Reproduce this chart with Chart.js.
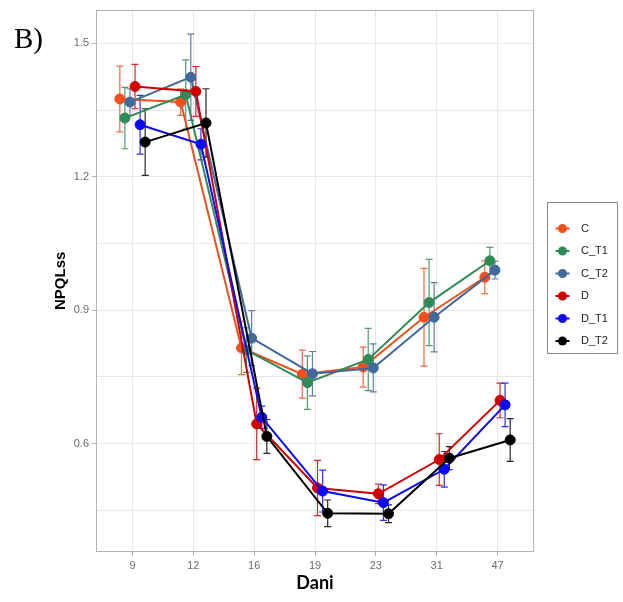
<!DOCTYPE html>
<html>
<head>
<meta charset="utf-8">
<title>NPQLss po danima</title>
<script src="https://cdn.jsdelivr.net/npm/chart.js@4.4.1/dist/chart.umd.min.js"></script>
<style>
  html, body { margin: 0; padding: 0; background: #ffffff; }
  #wrap { position: relative; width: 623px; height: 602px; }
</style>
</head>
<body>
<div id="wrap"><canvas id="chart-canvas" width="623" height="602"></canvas></div>
<script>
// ----- data: mean NPQLss per day and treatment, with standard deviation -----
var DAYS = ["9", "12", "16", "19", "23", "31", "47"];
var GROUPS = ["C", "C_T1", "C_T2", "D", "D_T1", "D_T2"];

var C_MEAN    = [1.375, 1.368, 0.815, 0.756, 0.772, 0.884, 0.974];
var C_T1_MEAN = [1.332, 1.385, 0.810, 0.737, 0.789, 0.917, 1.011];
var C_T2_MEAN = [1.368, 1.424, 0.837, 0.757, 0.770, 0.884, 0.990];
var D_MEAN    = [1.403, 1.392, 0.644, 0.500, 0.487, 0.564, 0.697];
var D_T1_MEAN = [1.317, 1.273, 0.659, 0.493, 0.467, 0.542, 0.687];
var D_T2_MEAN = [1.278, 1.321, 0.616, 0.443, 0.442, 0.567, 0.608];

var C_SD    = [0.074, 0.030, 0.060, 0.054, 0.045, 0.110, 0.037];
var C_T1_SD = [0.069, 0.078, 0.050, 0.060, 0.070, 0.097, 0.030];
var C_T2_SD = [0.030, 0.097, 0.062, 0.050, 0.054, 0.078, 0.020];
var D_SD    = [0.050, 0.056, 0.080, 0.062, 0.022, 0.058, 0.039];
var D_T1_SD = [0.066, 0.035, 0.025, 0.047, 0.040, 0.040, 0.049];
var D_T2_SD = [0.075, 0.077, 0.038, 0.030, 0.020, 0.026, 0.048];

var MEANS = [C_MEAN, C_T1_MEAN, C_T2_MEAN, D_MEAN, D_T1_MEAN, D_T2_MEAN];
var SDS = [C_SD, C_T1_SD, C_T2_SD, D_SD, D_T1_SD, D_T2_SD];

// y gridlines every 0.15, labels only on the major ones
var Y_TICKS = [0.45, 0.6, 0.75, 0.9, 1.05, 1.2, 1.35, 1.5];
var Y_LABELS = ["", "0.6", "", "0.9", "", "1.2", "", "1.5"];

// ----- styling -----
var COLORS = ["#f0501e", "#2e8b57", "#41699a", "#d00000", "#0a0af5", "#000000"];
var DODGE = 0.5;          // total horizontal spread of one day's points, in category units
var GRID = "#e8e8e8";
var BORDER = "#b3b3b3";
var TICK_TEXT = "#6b6b6b";

/**
 * Horizontal dodge offset for group i, so the six treatments sit side by side.
 */
function dodgeOffset(i) {
  return (i - (GROUPS.length - 1) / 2) * DODGE / GROUPS.length;
}

/**
 * Builds the {x, y} points of one group, x being the day index plus dodge.
 */
function groupPoints(i) {
  return MEANS[i].map(function(v, j) {
    return { x: j + 1 + dodgeOffset(i), y: v };
  });
}

var datasets = GROUPS.map(function(name, i) {
  return {
    label: name,
    data: groupPoints(i),
    borderColor: COLORS[i],
    backgroundColor: COLORS[i],
    borderWidth: 2,
    pointRadius: 5,
    pointBorderWidth: 1,
    pointBackgroundColor: COLORS[i],
    pointBorderColor: COLORS[i],
    tension: 0,
    order: GROUPS.length - 1 - i,
  };
});

// Error bars (mean +/- sd) drawn under the lines and points
var errorBars = {
  id: "errorBars",
  beforeDatasetsDraw: function(chart) {
    var ctx = chart.ctx;
    var xs = chart.scales.x;
    var ys = chart.scales.y;
    var cap = 3.5;
    ctx.save();
    ctx.lineWidth = 1.2;
    for (var i = 0; i < GROUPS.length; i++) {
      ctx.strokeStyle = COLORS[i];
      ctx.globalAlpha = 0.85;
      for (var j = 0; j < DAYS.length; j++) {
        var px = xs.getPixelForValue(j + 1 + dodgeOffset(i));
        var top = ys.getPixelForValue(MEANS[i][j] + SDS[i][j]);
        var bot = ys.getPixelForValue(MEANS[i][j] - SDS[i][j]);
        ctx.beginPath();
        ctx.moveTo(px, top);
        ctx.lineTo(px, bot);
        ctx.moveTo(px - cap, top);
        ctx.lineTo(px + cap, top);
        ctx.moveTo(px - cap, bot);
        ctx.lineTo(px + cap, bot);
        ctx.stroke();
      }
    }
    ctx.restore();
  },
};

// Grey frame around the plotting panel
var panelBorder = {
  id: "panelBorder",
  afterDatasetsDraw: function(chart) {
    var a = chart.chartArea;
    var ctx = chart.ctx;
    ctx.save();
    ctx.strokeStyle = BORDER;
    ctx.lineWidth = 1;
    ctx.strokeRect(Math.round(a.left) + 0.5, Math.round(a.top) + 0.5,
      Math.round(a.right - a.left) - 1, Math.round(a.bottom - a.top) - 1);
    ctx.restore();
  },
};

// Boxed legend on the right with line+point keys, and the "B)" panel tag
var sideLegend = {
  id: "sideLegend",
  afterDraw: function(chart) {
    var ctx = chart.ctx;
    var boxX = 547, boxY = 202, boxW = 70, boxH = 151;
    var firstY = 228.5, step = 22.5;
    var keyX = 562.5, textX = 581;
    ctx.save();
    ctx.strokeStyle = "#8a8a8a";
    ctx.lineWidth = 1;
    ctx.strokeRect(boxX + 0.5, boxY + 0.5, boxW, boxH);
    ctx.font = "11px 'Liberation Sans', Arial, sans-serif";
    ctx.textBaseline = "middle";
    ctx.textAlign = "left";
    for (var i = 0; i < GROUPS.length; i++) {
      var y = firstY + i * step;
      ctx.strokeStyle = COLORS[i];
      ctx.fillStyle = COLORS[i];
      ctx.lineWidth = 2;
      ctx.beginPath();
      ctx.moveTo(keyX - 7, y);
      ctx.lineTo(keyX + 7, y);
      ctx.stroke();
      ctx.beginPath();
      ctx.arc(keyX, y, 4.5, 0, Math.PI * 2);
      ctx.fill();
      ctx.fillStyle = "#222222";
      ctx.fillText(GROUPS[i], textX, y);
    }
    ctx.fillStyle = "#000000";
    ctx.font = "29px 'Liberation Serif', 'Times New Roman', serif";
    ctx.textBaseline = "alphabetic";
    ctx.fillText("B)", 14, 48);
    ctx.restore();
  },
};

var canvas = document.getElementById("chart-canvas");
var chartInstance = new Chart(canvas.getContext("2d"), {
  type: "line",
  data: { datasets: datasets },
  options: {
    responsive: false,
    animation: false,
    devicePixelRatio: 1,
    layout: { padding: { left: 52, right: 89, top: 6, bottom: 0 } },
    plugins: {
      legend: { display: false },
      tooltip: { enabled: false },
    },
    scales: {
      x: {
        type: "linear",
        min: 0.4,
        max: 7.6,
        afterBuildTicks: function(scale) {
          scale.ticks = DAYS.map(function(d, j) { return { value: j + 1 }; });
        },
        afterFit: function(scale) { scale.height = 50; },
        ticks: {
          color: TICK_TEXT,
          padding: 3,
          font: { family: "'Liberation Sans', Arial, sans-serif", size: 11 },
          callback: function(value) { return DAYS[Math.round(value) - 1]; },
        },
        grid: { color: GRID, lineWidth: 1, tickLength: 4, tickColor: BORDER },
        border: { display: false },
        title: {
          display: true,
          text: "Dani",
          color: "#000000",
          padding: { top: 0, bottom: 8 },
          font: { family: "Lato, 'Open Sans', sans-serif", size: 18, weight: "bold" },
        },
      },
      y: {
        type: "linear",
        min: 0.356,
        max: 1.576,
        afterBuildTicks: function(scale) {
          scale.ticks = Y_TICKS.map(function(v) { return { value: v }; });
        },
        afterFit: function(scale) { scale.width = 44; },
        ticks: {
          color: TICK_TEXT,
          padding: 3,
          font: { family: "'Liberation Sans', Arial, sans-serif", size: 11 },
          callback: function(value, index) { return Y_LABELS[index]; },
        },
        grid: {
          color: GRID,
          lineWidth: 1,
          tickLength: 4,
          tickColor: function(c) {
            return Y_LABELS[c.index] ? BORDER : "rgba(0,0,0,0)";
          },
        },
        border: { display: false },
        title: {
          display: true,
          text: "NPQLss",
          color: "#000000",
          padding: { top: 0, bottom: 0 },
          font: { family: "'Liberation Sans', Arial, sans-serif", size: 15, weight: "bold" },
        },
      },
    },
  },
  plugins: [errorBars, panelBorder, sideLegend],
});
</script>
</body>
</html>
